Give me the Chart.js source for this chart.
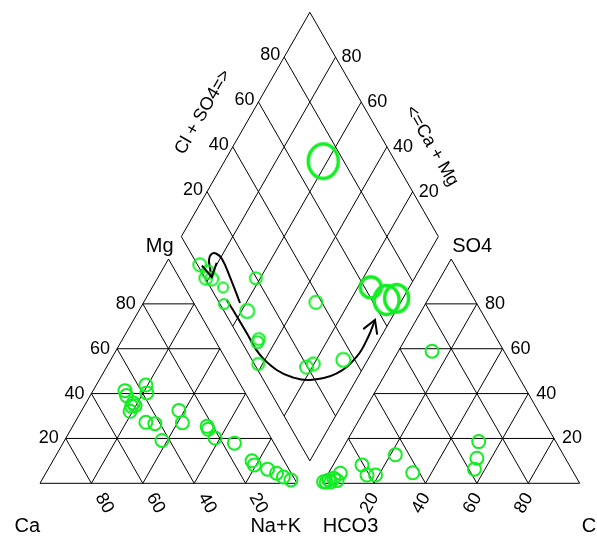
<!DOCTYPE html>
<html lang="en">
<head>
<meta charset="UTF-8">
<title>Piper diagram</title>
<script src="https://cdn.jsdelivr.net/npm/chart.js"></script>
<style>
  body { margin: 0; background: #fff; }
  canvas { display: block; }
</style>
</head>
<body>
<canvas id="piper" width="597" height="537"></canvas>
<script>
// cation triangle, % of meq
const cationCa  = [46.3, 46.8, 36.9, 38.3, 45.8, 47.2, 48.9, 45.7, 45.2, 42.0, 43.0, 29.7, 31.1, 22.3, 22.5, 21.8, 15.4, 12.5, 12.5, 8.3, 5.7, 3.9, 1.6];
const cationMg  = [41.3, 39.1, 43.8, 40.3, 35.8, 34.3, 32.1, 34.6, 27.2, 26.6, 19.1, 32.5, 27.0, 25.4, 24.1, 20.2, 17.9, 10.0, 8.2, 6.3, 4.5, 2.8, 1.5];
const cationNaK = [12.4, 14.1, 19.3, 21.4, 18.4, 18.5, 19.0, 19.7, 27.6, 31.4, 37.9, 37.8, 41.9, 52.3, 53.4, 58.0, 66.7, 77.5, 79.3, 85.4, 89.8, 93.3, 96.9];

// anion triangle, % of meq
const anionHCO3 = [99.3, 96.9, 94.6, 93.8, 90.9, 96.6, 98.4, 80.6, 80.9, 77.6, 65.4, 62.6, 30.0, 34.4, 37.8, 28.0];
const anionSO4  = [0.7, 1.5, 2.2, 1.2, 4.5, 0.6, 0.5, 8.2, 3.7, 3.7, 12.7, 4.7, 18.6, 11.2, 6.3, 58.9];
const anionCl   = [0.0, 1.6, 3.2, 5.0, 4.6, 2.8, 1.1, 11.2, 15.4, 18.7, 21.9, 32.7, 51.4, 54.4, 55.9, 13.1];

// diamond samples
const diamondCaMg  = [86.5, 81.8, 81.2, 78.7, 72.4, 68.4, 61.7, 57.8, 47.0, 46.8, 41.7, 33.0, 15.0, 6.0, 2.5, 22.2, 20.3, 9.5, 61.6];
const diamondClSO4 = [0.9, 2.4, 0.3, 2.4, 4.9, 1.5, 19.7, 9.0, 7.3, 6.1, 1.5, 37.7, 62.4, 65.7, 70.0, 19.6, 22.9, 35.5, 72.0];
const diamondTds   = [412, 412, 412, 412, 244, 244, 352, 479, 352, 352, 352, 412, 1077, 1526, 1406, 412, 412, 479, 2197];

const ticks = [20, 40, 60, 80];

// trend arrows drawn across the diamond
const arrow1X = [77.82, 73.93, 70.82, 68.48, 66.54, 65.76, 66.15, 66.81];
const arrow1Y = [69.61, 79.65, 86.60, 88.73, 88.34, 86.22, 83.13, 79.65];
const arrow2X = [72.65, 75.10, 80.43, 85.60, 92.10, 98.44, 105.06, 115.45, 123.23, 127.74, 130.35];
const arrow2Y = [70.77, 66.91, 58.03, 49.54, 43.75, 40.85, 39.88, 42.47, 48.88, 56.60, 63.13];

const S3 = Math.sqrt(3) / 2;
const GAP = 10;
const GREEN = '#11ee22';
const FONT = '"Liberation Sans", Arial, Helvetica, sans-serif';

function leftXY(ca, mg, nak) { return { x: nak + mg / 2, y: mg * S3 }; }
function rightXY(hco3, so4, cl) { return { x: 100 + GAP + cl + so4 / 2, y: so4 * S3 }; }
function diamondXY(camg, clso4) {
    return { x: 100 + GAP / 2 + (clso4 - camg) / 2, y: GAP * S3 + (camg + clso4) * S3 };
}

function ellipseStyle(tds) {
    const r = 0.32 * Math.sqrt(tds);
    const ry = r > 11 ? r * 1.15 : r;
    const lw = r > 9 ? 3.5 : 2;
    const c = document.createElement('canvas');
    c.width = Math.ceil(2 * (r + lw));
    c.height = Math.ceil(2 * (ry + lw));
    const g = c.getContext('2d');
    g.strokeStyle = GREEN;
    g.lineWidth = lw;
    g.beginPath();
    g.ellipse(c.width / 2, c.height / 2, r, ry, 0, 0, Math.PI * 2);
    g.stroke();
    return c;
}

const cationPoints = cationCa.map((ca, i) => leftXY(ca, cationMg[i], cationNaK[i]));
const anionPoints = anionHCO3.map((h, i) => rightXY(h, anionSO4[i], anionCl[i]));
const diamondPoints = diamondCaMg.map((a, i) => diamondXY(a, diamondClSO4[i]));
const diamondStyles = diamondTds.map(ellipseStyle);

const piperFrame = {
    id: 'piperFrame',
    beforeDatasetsDraw(chart) {
        const ctx = chart.ctx;
        const xs = chart.scales.x, ys = chart.scales.y;
        const px = p => [xs.getPixelForValue(p.x), ys.getPixelForValue(p.y)];

        function line(a, b) {
            const A = px(a), B = px(b);
            ctx.moveTo(A[0], A[1]);
            ctx.lineTo(B[0], B[1]);
        }
        function poly(pts) {
            pts.forEach((p, i) => {
                const P = px(p);
                if (i === 0) ctx.moveTo(P[0], P[1]); else ctx.lineTo(P[0], P[1]);
            });
            ctx.closePath();
        }
        function text(str, p, dx, dy, align, base, size, rot) {
            const P = px(p);
            ctx.save();
            ctx.translate(P[0] + dx, P[1] + dy);
            if (rot) ctx.rotate(rot);
            ctx.font = size + 'px ' + FONT;
            ctx.textAlign = align;
            ctx.textBaseline = base;
            ctx.fillStyle = '#000';
            ctx.fillText(str, 0, 0);
            ctx.restore();
        }

        ctx.save();
        ctx.strokeStyle = '#000';
        ctx.lineWidth = 1;
        ctx.beginPath();
        ticks.forEach(t => {
            // cation triangle
            line(leftXY(100 - t, t, 0), leftXY(0, t, 100 - t));
            line(leftXY(t, 0, 100 - t), leftXY(t, 100 - t, 0));
            line(leftXY(100 - t, 0, t), leftXY(0, 100 - t, t));
            // anion triangle
            line(rightXY(100 - t, t, 0), rightXY(0, t, 100 - t));
            line(rightXY(t, 0, 100 - t), rightXY(t, 100 - t, 0));
            line(rightXY(100 - t, 0, t), rightXY(0, 100 - t, t));
            // diamond
            line(diamondXY(t, 0), diamondXY(t, 100));
            line(diamondXY(0, t), diamondXY(100, t));
        });
        poly([leftXY(100, 0, 0), leftXY(0, 0, 100), leftXY(0, 100, 0)]);
        poly([rightXY(100, 0, 0), rightXY(0, 0, 100), rightXY(0, 100, 0)]);
        poly([diamondXY(0, 0), diamondXY(100, 0), diamondXY(100, 100), diamondXY(0, 100)]);
        ctx.stroke();
        ctx.restore();

        // tick labels
        ticks.forEach(t => {
            const s = String(t);
            text(s, leftXY(100 - t, t, 0), -7, 0, 'right', 'middle', 18);
            text(s, rightXY(0, t, 100 - t), 8, 0, 'left', 'middle', 18);
            text(s, leftXY(t, 0, 100 - t), 12.8, 20, 'center', 'middle', 18, Math.PI / 3);
            text(s, rightXY(100 - t, 0, t), -4.3, 20, 'center', 'middle', 18, -Math.PI / 3);
            text(s, diamondXY(100, t), -4, -2, 'right', 'middle', 18);
            text(s, diamondXY(t, 100), 6, 0, 'left', 'middle', 18);
        });

        // corner names
        text('Ca', leftXY(100, 0, 0), 0, 49, 'right', 'alphabetic', 20);
        text('Na+K', leftXY(0, 0, 100), 4, 49, 'right', 'alphabetic', 20);
        text('Mg', leftXY(0, 100, 0), 5, -7, 'right', 'alphabetic', 20);
        text('HCO3', rightXY(100, 0, 0), 0, 49, 'left', 'alphabetic', 20);
        text('Cl', rightXY(0, 0, 100), 2, 49, 'left', 'alphabetic', 20);
        text('SO4', rightXY(0, 100, 0), 1, -7, 'left', 'alphabetic', 20);

        // diamond axis titles
        text('Cl + SO4=>', diamondXY(100, 50), -42.6, -12.4, 'center', 'middle', 18, -Math.PI / 3);
        text('<=Ca + Mg', diamondXY(50, 100), 57.6, 21.6, 'center', 'middle', 18, Math.PI / 3);
    },
    afterDatasetsDraw(chart) {
        const ctx = chart.ctx;
        chart.data.datasets.forEach((ds, i) => {
            if (!ds.arrow) return;
            const pts = chart.getDatasetMeta(i).data;
            const tip = pts[pts.length - 1], prev = pts[pts.length - 2];
            const ang = Math.atan2(tip.y - prev.y, tip.x - prev.x);
            const len = 15;
            ctx.save();
            ctx.strokeStyle = '#000';
            ctx.lineWidth = 2;
            ctx.beginPath();
            ctx.moveTo(tip.x - len * Math.cos(ang - Math.PI / 6), tip.y - len * Math.sin(ang - Math.PI / 6));
            ctx.lineTo(tip.x, tip.y);
            ctx.lineTo(tip.x - len * Math.cos(ang + Math.PI / 6), tip.y - len * Math.sin(ang + Math.PI / 6));
            ctx.stroke();
            ctx.restore();
        });
    }
};

const X_MIN = -40 / 2.57, X_MAX = X_MIN + 597 / 2.57;
const Y_MAX = 483.3 / 2.59, Y_MIN = Y_MAX - 537 / 2.59;

function arrowSet(xsArr, ysArr) {
    return {
        data: xsArr.map((x, i) => ({ x: x, y: ysArr[i] })),
        showLine: true,
        tension: 0.4,
        borderColor: '#000',
        borderWidth: 2,
        pointRadius: 0,
        fill: false,
        arrow: true
    };
}

new Chart(document.getElementById('piper'), {
    type: 'scatter',
    data: {
        datasets: [
            {
                data: cationPoints,
                pointStyle: 'circle',
                pointRadius: 6.5,
                borderColor: GREEN,
                borderWidth: 2,
                backgroundColor: 'rgba(0,0,0,0)'
            },
            {
                data: anionPoints,
                pointStyle: 'circle',
                pointRadius: 6.5,
                borderColor: GREEN,
                borderWidth: 2,
                backgroundColor: 'rgba(0,0,0,0)'
            },
            {
                data: diamondPoints,
                pointStyle: diamondStyles
            },
            arrowSet(arrow1X, arrow1Y),
            arrowSet(arrow2X, arrow2Y)
        ]
    },
    options: {
        responsive: false,
        animation: false,
        clip: false,
        layout: { padding: 0, autoPadding: false },
        plugins: {
            legend: { display: false },
            tooltip: { enabled: false }
        },
        scales: {
            x: { type: 'linear', display: false, min: X_MIN, max: X_MAX },
            y: { type: 'linear', display: false, min: Y_MIN, max: Y_MAX }
        }
    },
    plugins: [piperFrame]
});
</script>
</body>
</html>
